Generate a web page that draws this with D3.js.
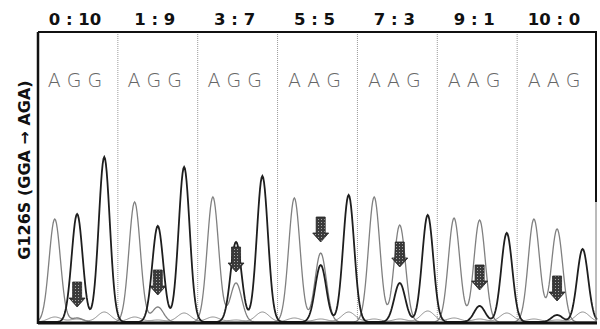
<!DOCTYPE html>
<html>
<head>
<meta charset="utf-8">
<script src="https://cdn.jsdelivr.net/npm/d3@7/dist/d3.min.js"></script>
<style>
  body { margin: 0; background: #fff; }
  svg { display: block; }
</style>
</head>
<body>
<div id="chart"></div>
<script>
// mixing ratio (mutant : wild type) of each panel
const ratios = ["0 : 10", "1 : 9", "3 : 7", "5 : 5", "7 : 3", "9 : 1", "10 : 0"];
// base calls shown in each panel
const codons = ["A G G", "A G G", "A G G", "A A G", "A A G", "A A G", "A A G"];
// where the 3 bases sit inside their panel (0 = left edge, 1 = right edge)
const basePos = [
  [0.21, 0.49, 0.83],
  [0.21, 0.50, 0.83],
  [0.19, 0.48, 0.81],
  [0.21, 0.54, 0.89],
  [0.21, 0.53, 0.88],
  [0.21, 0.53, 0.87],
  [0.21, 0.50, 0.82]
];
// peak heights of the A trace (gray) at the 3 bases
const aPeaks = [
  [103, 4, 0],
  [120, 15, 0],
  [125, 39, 0],
  [124, 69, 0],
  [125, 97, 0],
  [104, 102, 0],
  [103, 93, 0]
];
// peak heights of the G trace (black)
const gPeaks = [
  [0, 108, 165],
  [0, 96, 155],
  [0, 80, 146],
  [0, 57, 127],
  [0, 39, 107],
  [0, 16, 89],
  [0, 7, 73]
];
// small background peaks of the other dyes
const otherPeaks = [
  [5, 3, 10],
  [5, 2, 9],
  [5, 2, 10],
  [4, 3, 10],
  [3, 3, 11],
  [4, 3, 9],
  [3, 2, 10]
];
// signal level where each arrow tip ends
const arrowTips = [15, 27, 50, 80, 55, 32, 21];
const yLabel = "G126S (GGA \u2192 AGA)";

const width = 600, height = 329;
const margin = {top: 32, right: 3, bottom: 7, left: 38};
const plotW = width - margin.left - margin.right;
const plotH = height - margin.top - margin.bottom;

const svg = d3.select("#chart")
  .append("svg")
  .attr("width", width)
  .attr("height", height);

// crosshatch fill for the arrows
const pat = svg.append("defs").append("pattern")
  .attr("id", "hatch")
  .attr("width", 3).attr("height", 3)
  .attr("patternUnits", "userSpaceOnUse");
pat.append("rect").attr("width", 3).attr("height", 3).attr("fill", "#3a3a3a");
pat.append("rect").attr("x", 1).attr("y", 1).attr("width", 1).attr("height", 1).attr("fill", "#a8a8a8");

const g = svg.append("g")
  .attr("transform", "translate(" + margin.left + "," + margin.top + ")");

const x = d3.scaleLinear().domain([0, ratios.length]).range([0, plotW]);
const y = d3.scaleLinear().domain([0, 290]).range([plotH, 0]);

// panel dividers
g.selectAll(".divider")
  .data(d3.range(1, ratios.length))
  .enter()
  .append("line")
  .attr("x1", d => x(d)).attr("x2", d => x(d))
  .attr("y1", 0).attr("y2", plotH)
  .attr("stroke", "#9a9a9a")
  .attr("stroke-width", 1)
  .attr("stroke-dasharray", "1,1");

// build a trace as a sum of peaks at the base positions
function trace(peaks, sigma) {
  const pts = [];
  for (let t = 0; t <= ratios.length + 0.0001; t += 0.01) {
    let v = 0;
    peaks.forEach((row, i) => {
      row.forEach((h, j) => {
        if (!h) return;
        const c = i + basePos[i][j];
        v += h * Math.exp(-((t - c) * (t - c)) / (2 * sigma * sigma));
      });
    });
    pts.push([t, v]);
  }
  return pts;
}

const line = d3.line()
  .x(d => x(d[0]))
  .y(d => y(d[1]));

g.append("path")
  .datum(trace(otherPeaks, 0.085))
  .attr("d", line)
  .attr("fill", "none")
  .attr("stroke", "#8c8c8c")
  .attr("stroke-width", 1);

g.append("path")
  .datum(trace(aPeaks, 0.071))
  .attr("d", line)
  .attr("fill", "none")
  .attr("stroke", "#808080")
  .attr("stroke-width", 1.3);

g.append("path")
  .datum(trace(gPeaks, 0.069))
  .attr("d", line)
  .attr("fill", "none")
  .attr("stroke", "#1e1e1e")
  .attr("stroke-width", 1.8);

// arrows on the mutated base
g.selectAll(".arrow")
  .data(arrowTips)
  .enter()
  .append("path")
  .attr("d", (d, i) => {
    const cx = x(i + basePos[i][1]);
    const ty = y(d);
    return "M" + (cx - 4.5) + "," + (ty - 25) + "H" + (cx + 4.5) + "V" + (ty - 9) +
      "H" + (cx + 8) + "L" + cx + "," + ty + "L" + (cx - 8) + "," + (ty - 9) +
      "H" + (cx - 4.5) + "Z";
  })
  .attr("fill", "url(#hatch)")
  .attr("stroke", "#222")
  .attr("stroke-width", 0.8);

// frame
g.append("line")
  .attr("x1", 0).attr("x2", plotW).attr("y1", 0).attr("y2", 0)
  .attr("stroke", "#111").attr("stroke-width", 1.8);
g.append("line")
  .attr("x1", 0).attr("x2", 0).attr("y1", 0).attr("y2", plotH + 2)
  .attr("stroke", "#111").attr("stroke-width", 2.5);
g.append("line")
  .attr("x1", plotW - 1).attr("x2", plotW - 1).attr("y1", 0).attr("y2", y(120))
  .attr("stroke", "#111").attr("stroke-width", 2);
g.append("line")
  .attr("x1", plotW - 1).attr("x2", plotW - 1).attr("y1", y(120)).attr("y2", plotH)
  .attr("stroke", "#777").attr("stroke-width", 1);
g.append("line")
  .attr("x1", 0).attr("x2", plotW).attr("y1", plotH + 1).attr("y2", plotH + 1)
  .attr("stroke", "#111").attr("stroke-width", 3);

// ratio labels above the panels
svg.selectAll(".ratio")
  .data(ratios)
  .enter()
  .append("text")
  .attr("x", (d, i) => margin.left + x(i + 0.5) - 3)
  .attr("y", 25)
  .attr("text-anchor", "middle")
  .style("font-family", "DejaVu Sans")
  .style("font-weight", "bold")
  .style("font-size", "16.5px")
  .attr("fill", "#111")
  .text(d => d);

// base calls
g.selectAll(".codon")
  .data(codons)
  .enter()
  .append("text")
  .attr("x", (d, i) => x(i + 0.5) - 3)
  .attr("y", 55)
  .attr("text-anchor", "middle")
  .style("font-family", "DejaVu Sans")
  .style("font-weight", "200")
  .style("font-size", "19px")
  .attr("fill", "#666")
  .text(d => d);

// y label
svg.append("text")
  .attr("transform", "translate(30," + 170 + ")rotate(-90)")
  .attr("text-anchor", "middle")
  .style("font-family", "DejaVu Sans")
  .style("font-weight", "bold")
  .style("font-size", "16px")
  .attr("fill", "#111")
  .text(yLabel);
</script>
</body>
</html>
